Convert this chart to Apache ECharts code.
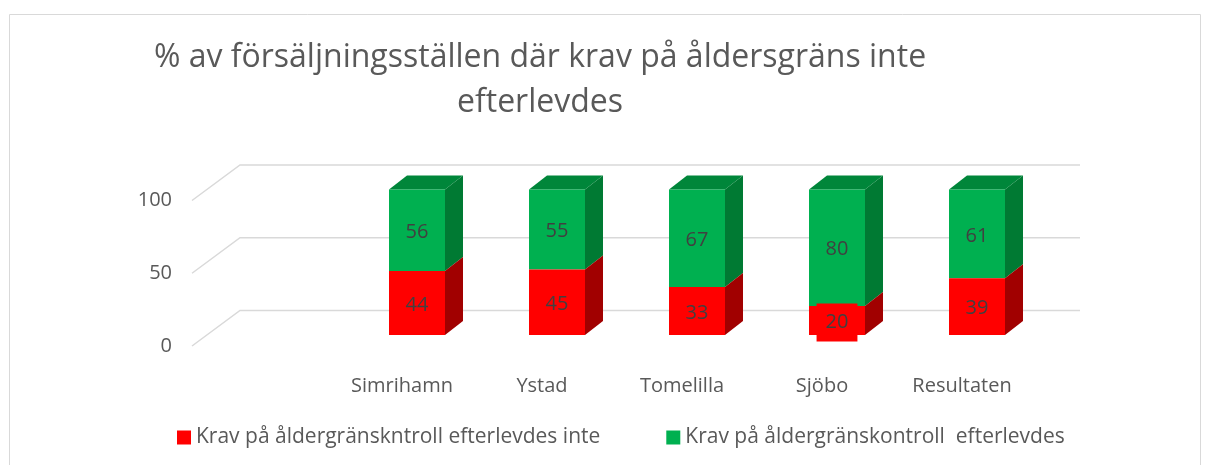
<!DOCTYPE html>
<html>
<head>
<meta charset="utf-8">
<script src="https://cdn.jsdelivr.net/npm/echarts@6/dist/echarts.min.js"></script>
<style>
  html, body { margin: 0; padding: 0; background: #fff; }
  #chart { width: 1207px; height: 465px; }
</style>
</head>
<body>
<div id="chart"></div>
<script>
// kategorier (första är tom, som i originalet)
const categories = ['', 'Simrihamn', 'Ystad', 'Tomelilla', 'Sjöbo', 'Resultaten'];
// % där krav inte efterlevdes
const notFollowed = [null, 44, 45, 33, 20, 39];
// % där krav efterlevdes
const followed = [null, 56, 55, 67, 80, 61];
const yTicks = [0, 50, 100];

const seriesNames = ['Krav på åldergränskntroll efterlevdes inte', 'Krav på åldergränskontroll  efterlevdes'];

// 3D-känsla
const FLOOR_DX = 48, FLOOR_DY = -35.5;   // golvets djup
const BAR_DX = 15, BAR_DY = -11;         // stapelns framsida bakom golvets framkant
const DEPTH_DX = 18, DEPTH_DY = -14;     // stapelns djup
const BAR_W = 56;

const colors = {
  red:   { front: '#ff0000', side: '#a10000', top: '#c00000' },
  green: { front: '#00b050', side: '#007a33', top: '#00863a' }
};

function barItem(col, hasTop, boxed) {
  return function (params, api) {
    const x = api.value(0), base = api.value(1), v = api.value(2);
    if (v == null || isNaN(v)) return;
    const p0 = api.coord([x, base]);
    const p1 = api.coord([x, base + v]);
    const cx = p0[0] + BAR_DX;
    const l = cx - BAR_W / 2, r = cx + BAR_W / 2;
    const b = p0[1] + BAR_DY, t = p1[1] + BAR_DY;
    const isBoxed = boxed && categories[x] === boxed;
    const children = [
      { type: 'polygon', shape: { points: [[r, b], [r + DEPTH_DX, b + DEPTH_DY], [r + DEPTH_DX, t + DEPTH_DY], [r, t]] },
        style: { fill: col.side } },
      { type: 'rect', shape: { x: l, y: t, width: BAR_W, height: b - t },
        style: { fill: col.front } },
      { type: 'text', x: cx, y: (t + b) / 2 + 2, z2: 10,
        style: {
          text: String(v), fill: '#404040', fontSize: 20, fontFamily: 'Open Sans',
          align: 'center', verticalAlign: 'middle',
          backgroundColor: isBoxed ? col.front : null,
          padding: isBoxed ? [9, 9, 9, 9] : 0
        } }
    ];
    if (hasTop) {
      children.splice(1, 0, { type: 'polygon',
        shape: { points: [[l, t], [r, t], [r + DEPTH_DX, t + DEPTH_DY], [l + DEPTH_DX, t + DEPTH_DY]] },
        style: { fill: col.top } });
    }
    return { type: 'group', children: children };
  };
}

const redData = categories.map((c, i) => [i, 0, notFollowed[i]]);
const greenData = categories.map((c, i) => [i, notFollowed[i] || 0, followed[i]]);

const chart = echarts.init(document.getElementById('chart'));
chart.setOption({
  animation: false,
  title: {
    text: '% av försäljningsställen där krav på åldersgräns inte\nefterlevdes',
    left: 535,
    top: 30,
    textAlign: 'center',
    textStyle: { fontFamily: 'Open Sans', fontSize: 32, fontWeight: 'normal', color: '#595959', lineHeight: 45, align: 'center' }
  },
  graphic: [{
    type: 'rect', silent: true, z: -10,
    shape: { x: 9.5, y: 14.5, width: 1191, height: 470 },
    style: { fill: 'none', stroke: '#d9d9d9', lineWidth: 1 }
  }],
  legend: {
    left: 172,
    top: 422,
    icon: 'rect',
    itemWidth: 14,
    itemHeight: 14,
    itemGap: 66,
    textStyle: { fontFamily: 'Open Sans', fontSize: 21, color: '#595959' },
    data: seriesNames
  },
  grid: { left: 192, right: 175, top: 200.5, bottom: 119 },
  xAxis: {
    type: 'category',
    data: categories,
    axisLine: { show: false },
    axisTick: { show: false },
    axisLabel: { fontFamily: 'Open Sans', fontSize: 20, color: '#595959', margin: 30 }
  },
  yAxis: {
    type: 'value',
    min: 0, max: 100, interval: 50,
    axisLine: { show: false },
    axisTick: { show: false },
    splitLine: { show: false },
    axisLabel: { fontFamily: 'Open Sans', fontSize: 20, color: '#595959', margin: 20, lineHeight: 20, padding: [6, 0, 0, 0] }
  },
  series: [
    {
      name: 'grid', type: 'custom', silent: true, z: 1,
      data: yTicks.map(v => [0, v]),
      renderItem: function (params, api) {
        const cs = params.coordSys;
        const y = api.coord([0, api.value(1)])[1];
        const x0 = cs.x, x1 = cs.x + cs.width;
        return {
          type: 'polyline',
          shape: { points: [[x0, y], [x0 + FLOOR_DX, y + FLOOR_DY], [x1 + FLOOR_DX, y + FLOOR_DY]] },
          style: { stroke: '#d9d9d9', lineWidth: 1.5, fill: null }
        };
      }
    },
    {
      name: seriesNames[0], type: 'custom', z: 3,
      itemStyle: { color: colors.red.front },
      encode: { x: 0, y: 2 },
      data: redData,
      renderItem: barItem(colors.red, false, 'Sjöbo')
    },
    {
      name: seriesNames[1], type: 'custom', z: 2,
      itemStyle: { color: colors.green.front },
      encode: { x: 0, y: 2 },
      data: greenData,
      renderItem: barItem(colors.green, true, null)
    }
  ]
});
</script>
</body>
</html>
